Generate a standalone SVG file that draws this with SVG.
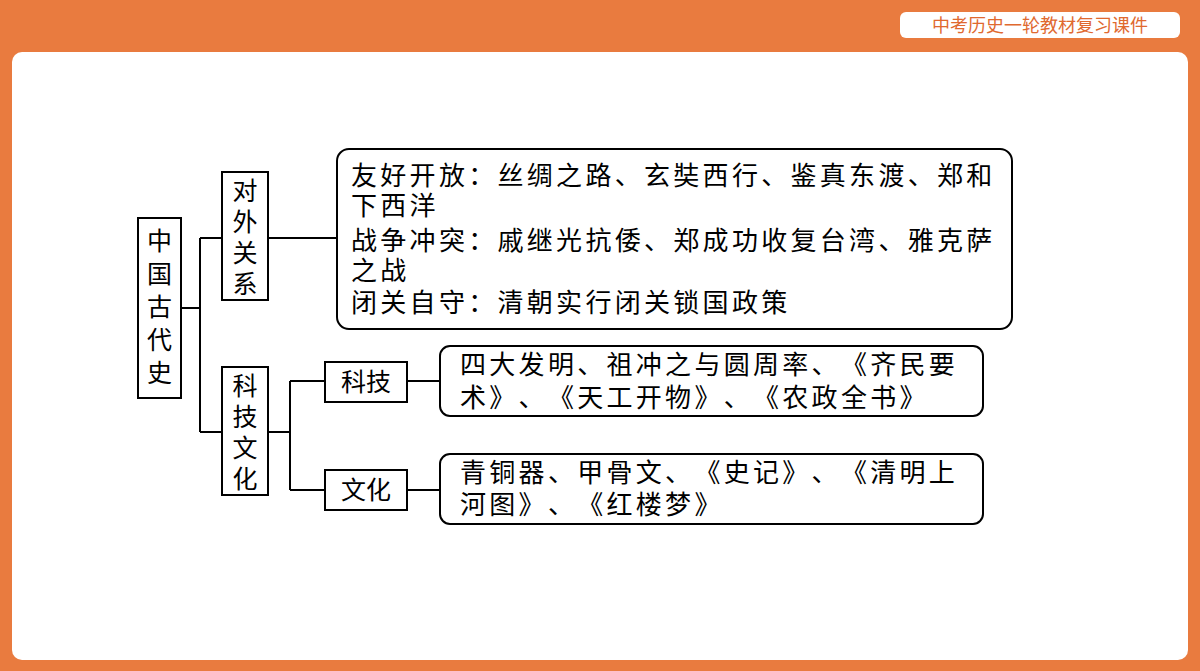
<svg xmlns="http://www.w3.org/2000/svg" width="1200" height="671" viewBox="0 0 1200 671">
<style>
.b{fill:#fff;stroke:#000;stroke-width:2}
.t{font-family:"Noto Sans CJK SC",sans-serif;font-size:26px;fill:#000;letter-spacing:3.3px;text-spacing-trim:space-all;font-feature-settings:"halt" 0}
.v{font-family:"Noto Sans CJK SC",sans-serif;font-size:25px;fill:#000}
.c{stroke:#000;stroke-width:2;fill:none}
</style>
<rect width="1200" height="671" fill="#E97B3F"/>
<rect x="12" y="52" width="1176" height="608" rx="10" fill="#fff"/>
<rect x="900" y="12" width="280" height="26" rx="6" fill="#fff"/>
<text x="1040" y="32" text-anchor="middle" font-family="Noto Sans CJK SC,sans-serif" font-size="18" fill="#E0692F">中考历史一轮教材复习课件</text>
<g id="connectors">
<path class="c" d="M181 308H200M200 238V432M200 238H222M200 432H222M268 238H337M268 432H290M290 381V490M290 381H325M290 490H325M407 381H440M407 490H440"/>
</g>
<g id="n1"><rect class="b" x="138" y="218" width="43" height="180"/>
<text class="v" x="159.5" y="250" text-anchor="middle">中</text><text class="v" x="159.5" y="283" text-anchor="middle">国</text><text class="v" x="159.5" y="316" text-anchor="middle">古</text><text class="v" x="159.5" y="349" text-anchor="middle">代</text><text class="v" x="159.5" y="382" text-anchor="middle">史</text></g>
<g id="n2"><rect class="b" x="222" y="172" width="46" height="128"/>
<text class="v" x="245" y="200" text-anchor="middle">对</text><text class="v" x="245" y="231" text-anchor="middle">外</text><text class="v" x="245" y="262" text-anchor="middle">关</text><text class="v" x="245" y="293" text-anchor="middle">系</text></g>
<g id="n3"><rect class="b" x="222" y="367" width="46" height="128"/>
<text class="v" x="245" y="395" text-anchor="middle">科</text><text class="v" x="245" y="426" text-anchor="middle">技</text><text class="v" x="245" y="457" text-anchor="middle">文</text><text class="v" x="245" y="488" text-anchor="middle">化</text></g>
<g id="n4"><rect class="b" x="337" y="149" width="675" height="180" rx="12"/>
<text class="t" x="351" y="185">友好开放：丝绸之路、玄奘西行、鉴真东渡、郑和</text>
<text class="t" x="351" y="215">下西洋</text>
<text class="t" x="351" y="250">战争冲突：戚继光抗倭、郑成功收复台湾、雅克萨</text>
<text class="t" x="351" y="280">之战</text>
<text class="t" x="351" y="312">闭关自守：清朝实行闭关锁国政策</text></g>
<g id="n5"><rect class="b" x="325" y="362" width="82" height="40"/><text class="v" x="366" y="391" text-anchor="middle">科技</text></g>
<g id="n6"><rect class="b" x="325" y="470" width="82" height="40"/><text class="v" x="366" y="499" text-anchor="middle">文化</text></g>
<g id="n7"><rect class="b" x="440" y="346" width="543" height="70" rx="10"/>
<text class="t" x="460" y="374">四大发明、祖冲之与圆周率、《齐民要</text>
<text class="t" x="460" y="407">术》、《天工开物》、《农政全书》</text></g>
<g id="n8"><rect class="b" x="440" y="454" width="543" height="70" rx="10"/>
<text class="t" x="460" y="482">青铜器、甲骨文、《史记》、《清明上</text>
<text class="t" x="460" y="514">河图》、《红楼梦》</text></g>
</svg>
